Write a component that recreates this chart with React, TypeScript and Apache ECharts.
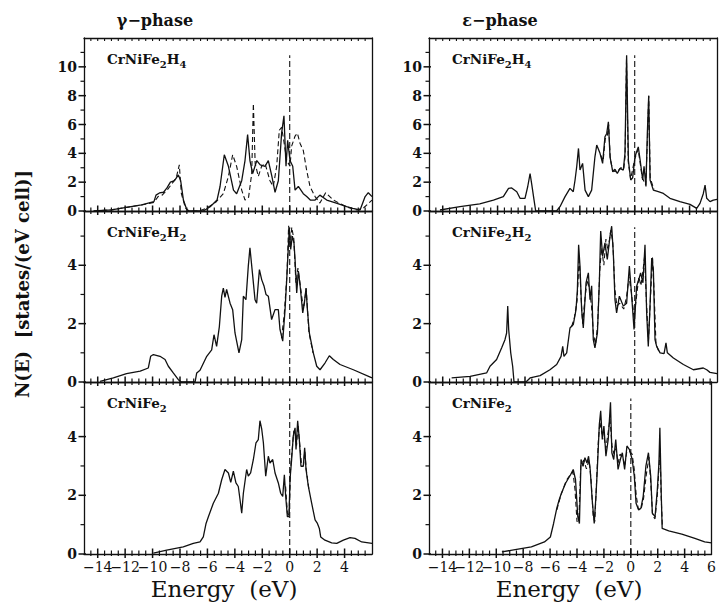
import React, { useEffect, useRef } from "react";
import * as echarts from "echarts";

// ---------- data (E in eV, N(E) in states/(eV cell)) ----------
const gammaH4Solid = [[-14.3,0],[-13,0.08],[-11.9,0.25],[-10.8,0.42],[-9.9,0.65],[-9.75,1.1],[-9.5,1.25],[-9.2,1.3],[-8.95,1.6],[-8.7,2.0],[-8.4,2.1],[-8.12,2.5],[-7.95,2.1],[-7.75,0.76],[-7.5,0.07],[-7.3,0],[-6.3,0],[-5.8,0.3],[-5.3,0.76],[-5.08,1.7],[-4.77,3.9],[-4.47,3.1],[-4.1,1.45],[-3.87,1.2],[-3.5,2.1],[-3.26,3.5],[-3.07,5.3],[-2.9,3.5],[-2.7,2.6],[-2.4,3.5],[-2.15,3.2],[-1.8,3.1],[-1.56,3.5],[-1.3,2.4],[-1.07,1.3],[-0.83,2.1],[-0.59,5.4],[-0.42,6.6],[-0.27,3.1],[-0.15,4.9],[0.02,3.5],[0.22,3.1],[0.39,1.45],[0.63,1.7],[0.99,1.2],[1.24,1.0],[1.5,0.76],[1.85,0.76],[2.2,1.1],[2.7,0.76],[3.4,0.55],[4.15,0.3],[4.6,0.18],[5.13,0.07],[5.5,1.0],[5.73,1.27],[6,1.0]];
const gammaH4Dashed = [[-14.3,0],[-13,0.08],[-11.9,0.25],[-10.8,0.42],[-9.9,0.6],[-9.6,1.0],[-9.3,1.1],[-8.9,1.5],[-8.5,2.0],[-8.25,2.4],[-8.05,3.2],[-7.9,1.2],[-7.6,0.2],[-7.35,0],[-6.6,0],[-6.05,0.2],[-5.4,0.6],[-4.84,1.2],[-4.47,2.4],[-4.16,3.9],[-3.87,3.1],[-3.5,1.45],[-3.26,0.76],[-3.0,0.95],[-2.77,2.6],[-2.65,7.45],[-2.52,3.3],[-2.29,2.4],[-2.05,3.1],[-1.8,3.3],[-1.44,2.1],[-1.2,1.7],[-0.95,3.1],[-0.76,5.6],[-0.59,5.8],[-0.42,4.8],[-0.22,3.5],[0.02,3.1],[0.14,4.5],[0.39,5.2],[0.56,5.4],[0.75,4.7],[0.99,4.2],[1.24,2.8],[1.48,1.7],[1.85,1.0],[2.2,0.55],[2.62,1.27],[3.18,0.76],[4.1,0.3],[4.88,0.07],[5.37,0.2],[6,0.76]];

const epsH4Solid = [[-14.2,0.07],[-12.74,0.3],[-11.3,0.5],[-10.3,0.76],[-9.58,1.0],[-9.2,1.57],[-8.97,1.6],[-8.6,1.34],[-8.36,0.88],[-8.0,0.88],[-7.8,1.7],[-7.63,2.6],[-7.5,1.8],[-7.34,0.76],[-7.22,0],[-5.7,0],[-5.45,0.3],[-5.08,1.0],[-4.72,1.57],[-4.48,1.34],[-4.35,2.15],[-4.23,3.07],[-4.1,4.34],[-3.99,2.84],[-3.8,3.3],[-3.62,1.45],[-3.38,1.0],[-3.14,1.45],[-2.9,3.76],[-2.77,4.57],[-2.53,4.0],[-2.34,3.3],[-2.17,5.15],[-2.04,5.38],[-1.92,6.19],[-1.8,3.76],[-1.6,2.72],[-1.44,2.9],[-1.27,2.6],[-1.07,2.96],[-0.83,2.84],[-0.71,4.0],[-0.59,10.8],[-0.46,3.5],[-0.29,2.15],[-0.15,2.3],[0.02,3.76],[0.26,4.45],[0.4,3.5],[0.58,2.15],[0.68,3.1],[0.82,1.7],[0.92,5.4],[1.02,8.0],[1.12,2.15],[1.36,1.45],[1.72,1.34],[2.09,1.22],[2.57,0.88],[3.3,0.65],[4.03,0.46],[4.52,0.18],[4.76,0.53],[5.0,1.2],[5.13,1.8],[5.25,0.88],[5.49,0.65],[5.73,0.76],[6.0,0.8]];
const epsH4Dashed = [[-2.5,3.9],[-2.3,3.5],[-2.15,5.0],[-2.0,5.2],[-1.9,6.0],[-1.78,3.6],[-1.6,2.8],[-1.3,2.7],[-1.0,3.0],[-0.8,2.9],[-0.7,3.8],[-0.6,10.5],[-0.47,3.4],[-0.3,2.2],[0.0,3.6],[0.25,4.3],[0.55,2.3],[0.8,1.8],[0.93,5.0],[1.02,8.0],[1.13,2.3],[1.4,1.5]];

const gammaH2Solid = [[-13.83,0.02],[-12.86,0.14],[-11.9,0.29],[-10.9,0.37],[-10.31,0.48],[-10.14,0.88],[-9.94,0.94],[-9.46,0.88],[-9.09,0.77],[-8.85,0.54],[-8.49,0.31],[-8.12,0.08],[-7.9,0],[-6.9,0],[-6.78,0.31],[-6.54,0.4],[-6.05,0.88],[-5.69,1.1],[-5.52,1.62],[-5.33,1.22],[-5.13,1.9],[-4.96,2.94],[-4.84,3.22],[-4.72,2.9],[-4.6,3.17],[-4.35,2.7],[-4.16,2.48],[-3.99,1.68],[-3.7,1.0],[-3.5,1.45],[-3.38,2.94],[-3.19,2.82],[-3.02,3.97],[-2.9,4.6],[-2.72,3.74],[-2.53,2.82],[-2.41,2.7],[-2.21,3.85],[-2.04,3.5],[-1.88,3.3],[-1.73,3.0],[-1.56,2.94],[-1.32,2.14],[-1.07,2.48],[-0.83,2.48],[-0.71,1.8],[-0.51,1.4],[-0.34,2.48],[-0.22,3.5],[-0.03,5.28],[0.07,4.54],[0.19,5.0],[0.31,4.77],[0.39,4.2],[0.51,3.05],[0.63,3.8],[0.75,3.34],[0.95,2.37],[1.07,2.7],[1.19,3.22],[1.29,2.48],[1.43,1.68],[1.72,1.0],[1.97,0.54],[2.21,0.42],[2.57,0.65],[2.89,0.9],[3.18,0.77],[3.67,0.6],[4.64,0.42],[6.0,0.14]];
const gammaH2Dashed = [[-0.6,1.5],[-0.4,2.3],[-0.2,3.7],[-0.08,5.35],[0.05,4.7],[0.15,5.3],[0.3,4.9],[0.45,3.4],[0.6,3.9],[0.8,3.2],[1.0,2.5],[1.2,3.2],[1.4,1.7],[1.7,1.0]];

const epsH2Solid = [[-13.35,0.14],[-12.0,0.19],[-10.8,0.31],[-10.55,0.54],[-10.07,0.77],[-9.7,1.17],[-9.46,1.45],[-9.34,1.68],[-9.26,2.6],[-9.19,1.8],[-9.04,1.0],[-8.9,0.54],[-8.8,0],[-7.93,0],[-7.63,0.14],[-6.9,0.22],[-6.18,0.42],[-5.69,0.6],[-5.37,0.88],[-5.25,1.22],[-5.16,0.88],[-4.96,1.0],[-4.72,1.85],[-4.48,1.97],[-4.28,2.48],[-4.18,3.17],[-4.09,4.7],[-3.99,3.97],[-3.87,2.48],[-3.75,1.85],[-3.55,3.4],[-3.38,3.74],[-3.26,2.82],[-3.14,3.3],[-3.02,1.45],[-2.9,1.17],[-2.72,1.68],[-2.58,3.4],[-2.48,5.17],[-2.34,4.31],[-2.17,4.77],[-2.0,4.2],[-1.8,5.0],[-1.68,5.34],[-1.56,4.42],[-1.44,2.82],[-1.32,2.37],[-1.12,2.94],[-0.83,2.6],[-0.59,2.7],[-0.39,3.97],[-0.22,2.94],[-0.05,1.8],[0.14,3.28],[0.26,3.45],[0.43,3.74],[0.6,3.4],[0.75,4.7],[0.87,2.37],[0.99,1.22],[1.1,2.4],[1.24,4.25],[1.36,3.85],[1.48,1.45],[1.6,1.22],[1.85,1.0],[2.14,0.97],[2.28,1.34],[2.38,1.0],[2.82,0.82],[3.55,0.6],[4.28,0.42],[5.0,0.48],[5.25,0.42],[5.49,0.33],[6.0,0.29]];
const epsH2Dashed = [[-4.6,1.9],[-4.4,2.2],[-4.2,2.8],[-4.05,4.3],[-3.92,3.0],[-3.8,2.0],[-3.6,3.0],[-3.45,3.5],[-3.3,3.2],[-3.15,2.6],[-3.0,1.6],[-2.85,1.3],[-2.7,2.0],[-2.55,3.8],[-2.42,4.6],[-2.25,4.0],[-2.1,4.9],[-1.95,4.5],[-1.75,5.2],[-1.6,4.8],[-1.45,3.2],[-1.3,2.6],[-1.1,2.7],[-0.8,2.5],[-0.6,2.9],[-0.42,3.6],[-0.25,3.1],[-0.05,2.2],[0.15,3.0],[0.3,3.6],[0.45,3.3],[0.6,3.8],[0.72,4.3],[0.85,2.8],[1.0,1.4],[1.15,2.9],[1.3,4.3],[1.42,3.0],[1.55,1.3],[1.8,1.0]];

const gammaSolid = [[-9.94,0.03],[-8.97,0.13],[-7.76,0.24],[-7.03,0.36],[-6.54,0.41],[-6.3,0.58],[-6.1,1.04],[-5.93,1.27],[-5.57,1.73],[-5.2,2.07],[-4.96,2.53],[-4.72,2.88],[-4.47,2.76],[-4.3,2.44],[-4.11,2.82],[-3.92,2.42],[-3.75,2.3],[-3.62,1.84],[-3.5,1.39],[-3.38,2.07],[-3.14,2.88],[-3.02,2.65],[-2.85,2.76],[-2.65,3.22],[-2.46,3.79],[-2.29,3.9],[-2.17,4.54],[-2.04,4.25],[-1.92,3.79],[-1.75,2.65],[-1.56,3.33],[-1.44,3.1],[-1.24,3.22],[-1.07,2.76],[-0.83,2.42],[-0.66,2.07],[-0.51,1.96],[-0.39,2.7],[-0.3,2.0],[-0.17,1.27],[-0.05,1.27],[0.02,2.53],[0.14,3.22],[0.26,4.02],[0.39,4.3],[0.46,3.56],[0.58,4.54],[0.7,3.9],[0.82,2.99],[0.99,2.99],[1.09,3.62],[1.19,2.88],[1.36,2.3],[1.6,1.73],[1.85,1.16],[2.02,1.04],[2.16,0.87],[2.26,0.58],[2.57,0.47],[3.06,0.38],[3.43,0.36],[3.91,0.47],[4.4,0.56],[4.76,0.53],[5.25,0.41],[6.0,0.36]];
const gammaDashed = [[-0.3,2.3],[-0.17,1.4],[-0.05,1.3],[0.05,2.8],[0.15,3.4],[0.3,4.2],[0.4,4.1],[0.5,3.7],[0.6,4.4],[0.72,3.8],[0.85,3.1],[1.0,3.0],[1.1,3.5],[1.2,2.9],[1.4,2.2]];

const epsSolid = [[-9.58,0.07],[-8.6,0.15],[-7.39,0.24],[-6.42,0.41],[-5.98,0.58],[-5.74,1.04],[-5.5,1.56],[-5.33,1.84],[-5.16,2.07],[-4.84,2.42],[-4.48,2.7],[-4.28,2.88],[-4.11,2.53],[-3.94,1.27],[-3.82,1.04],[-3.7,3.22],[-3.55,2.99],[-3.41,3.28],[-3.26,3.1],[-3.14,3.33],[-3.02,2.88],[-2.87,1.84],[-2.72,1.04],[-2.58,2.07],[-2.48,2.99],[-2.34,4.42],[-2.24,4.88],[-2.12,3.9],[-2.0,4.36],[-1.85,3.33],[-1.68,3.9],[-1.51,5.17],[-1.41,3.45],[-1.27,3.22],[-1.12,3.9],[-0.95,2.88],[-0.78,3.22],[-0.63,3.45],[-0.46,2.88],[-0.29,3.68],[-0.1,3.56],[0.1,3.22],[0.26,2.65],[0.39,1.73],[0.58,1.5],[0.75,1.56],[0.92,1.96],[1.12,2.99],[1.31,3.45],[1.48,2.65],[1.6,1.39],[1.8,1.27],[1.97,2.19],[2.09,3.1],[2.16,4.3],[2.26,2.07],[2.33,0.87],[2.82,0.79],[3.79,0.68],[4.76,0.53],[5.49,0.41],[6.0,0.38]];
const epsDashed = [[-5.5,1.5],[-5.2,2.0],[-4.8,2.5],[-4.5,2.7],[-4.3,2.8],[-4.15,2.2],[-4.0,1.1],[-3.85,1.3],[-3.72,3.0],[-3.5,3.2],[-3.3,2.9],[-3.1,3.2],[-2.95,2.5],[-2.8,1.3],[-2.68,1.1],[-2.55,2.4],[-2.42,3.8],[-2.3,4.5],[-2.15,4.1],[-2.0,4.0],[-1.85,3.6],[-1.7,4.1],[-1.55,4.6],[-1.4,3.7],[-1.25,3.4],[-1.1,3.6],[-0.95,3.1],[-0.8,3.4],[-0.6,3.3],[-0.45,3.0],[-0.3,3.5],[-0.1,3.5],[0.1,3.4],[0.25,2.9],[0.4,2.0],[0.55,1.55],[0.75,1.5],[0.95,1.9],[1.15,2.7],[1.35,3.3],[1.5,2.3],[1.62,1.3],[1.8,1.2],[1.97,2.0],[2.1,3.0],[2.17,3.6],[2.26,1.9],[2.35,0.9]];

const fermiTop = [[0, 0], [0, 10.8]];
const fermiLow = [[0, 0], [0, 5.3]];

// tick positions / labels
const xMajorTicks = [-14, -12, -10, -8, -6, -4, -2, 0, 2, 4];
const xMinorTicks = [-14.5, -13.5, -13, -12.5, -11.5, -11, -10.5, -9.5, -9, -8.5, -7.5, -7, -6.5, -5.5, -5, -4.5, -3.5, -3, -2.5, -1.5, -1, -0.5, 0.5, 1, 1.5, 2.5, 3, 3.5, 4.5, 5, 5.5];
const yMajorTop = [0, 2, 4, 6, 8, 10];
const yMinorTop = [1, 3, 5, 7, 9, 11];
const yMajorLow = [0, 2, 4];
const yMinorLow = [1, 3, 5];
const xLabelMaxLeft = 4;
const xLabelMaxRight = 6;
const yLabelMaxTop = 10;

const phaseTitles = ["γ−phase", "ε−phase"];
const compounds = [
  ["CrNiFe", "2", "H", "4"],
  ["CrNiFe", "2", "H", "2"],
  ["CrNiFe", "2", "", ""],
];

const panels = [
  { solid: gammaH4Solid, dashed: gammaH4Dashed, fermi: fermiTop },
  { solid: epsH4Solid, dashed: epsH4Dashed, fermi: fermiTop },
  { solid: gammaH2Solid, dashed: gammaH2Dashed, fermi: fermiLow },
  { solid: epsH2Solid, dashed: epsH2Dashed, fermi: fermiLow },
  { solid: gammaSolid, dashed: gammaDashed, fermi: fermiLow },
  { solid: epsSolid, dashed: epsDashed, fermi: fermiLow },
];

const FONT = "DejaVu Serif";
const INK = "#111";

export default function App() {
  const ref = useRef<HTMLDivElement>(null);
  useEffect(() => {
    if (!ref.current) return;
    const chart = echarts.init(ref.current, undefined, { renderer: "svg" });
    const lefts = [84, 429];
    const tops = [38, 211, 382];
    const heights = [173, 171, 172];
    const grid: any[] = [];
    const xAxis: any[] = [];
    const yAxis: any[] = [];
    const series: any[] = [];
    const graphic: any[] = [];
    panels.forEach((p, i) => {
      const col = i % 2;
      const row = Math.floor(i / 2);
      const ymax = row === 0 ? 12 : 5.86;
      const xLabMax = col === 0 ? xLabelMaxLeft : xLabelMaxRight;
      grid.push({ left: lefts[col], top: tops[row], width: 288, height: heights[row] });
      const baseX = {
        gridIndex: i, type: "value", min: -15, max: 6, interval: 0.5,
        splitLine: { show: false },
      };
      xAxis.push({
        ...baseX, position: "bottom",
        axisLine: { show: true, onZero: false, lineStyle: { color: INK, width: 1.3 } },
        axisTick: { show: false },
        axisLabel: {
          show: row === 2, hideOverlap: false, showMinLabel: true, showMaxLabel: true,
          formatter: (v: number) => (Math.abs(v % 2) < 1e-9 && v >= -14 && v <= xLabMax ? String(v).replace("-", "−") : ""),
          fontFamily: FONT, fontSize: 14, color: INK, margin: 6,
        },
      });
      xAxis.push({
        ...baseX, position: "top",
        axisLine: { show: true, onZero: false, lineStyle: { color: INK, width: 1.3 } },
        axisTick: { show: false },
        axisLabel: { show: false },
      });
      const baseY = { gridIndex: i, type: "value", min: 0, max: ymax, interval: 1, splitLine: { show: false } };
      yAxis.push({
        ...baseY, position: "left",
        axisLine: { show: true, onZero: false, lineStyle: { color: INK, width: 1.3 } },
        axisTick: { show: false },
        axisLabel: {
          show: true, hideOverlap: false,
          formatter: (v: number) => (Math.abs(v % 2) < 1e-9 && v <= yLabelMaxTop ? String(v) : ""),
          fontFamily: FONT, fontWeight: "bold", fontSize: 14, color: INK, margin: 7,
        },
      });
      yAxis.push({
        ...baseY, position: "right",
        axisLine: { show: true, onZero: false, lineStyle: { color: INK, width: 1.3 } },
        axisTick: { show: false },
        axisLabel: { show: false },
      });
      const ax = { xAxisIndex: i * 2, yAxisIndex: i * 2 };
      const common = { ...ax, type: "line", symbol: "none", silent: true };
      series.push({ ...common, data: p.dashed, lineStyle: { color: INK, width: 1.1, type: [5, 3] }, z: 3 });
      series.push({ ...common, data: p.solid, lineStyle: { color: INK, width: 1.3 }, z: 4 });
      series.push({ ...common, data: p.fermi, lineStyle: { color: INK, width: 1.1, type: [6, 3] }, z: 2 });

      const c = compounds[row];
      graphic.push({
        type: "text", left: lefts[col] + 23, top: tops[row] + 14,
        style: {
          text: `{a|${c[0]}}{s|${c[1]}}` + (c[2] ? `{a|${c[2]}}{s|${c[3]}}` : ""),
          rich: {
            a: { fontFamily: FONT, fontWeight: "bold", fontSize: 13.5, fill: INK, verticalAlign: "top", lineHeight: 15 },
            s: { fontFamily: FONT, fontWeight: "bold", fontSize: 10, fill: INK, verticalAlign: "top", lineHeight: 11, padding: [7, 0, 0, 0] },
          },
        },
      });
    });
    graphic.push({
      type: "text", x: 155, y: 20,
      style: { text: phaseTitles[0], fontFamily: FONT, fontWeight: "bold", fontSize: 16, fill: INK, align: "center", verticalAlign: "middle" },
    });
    graphic.push({
      type: "text", x: 500, y: 20,
      style: { text: phaseTitles[1], fontFamily: FONT, fontWeight: "bold", fontSize: 16, fill: INK, align: "center", verticalAlign: "middle" },
    });
    graphic.push({
      type: "text", x: 22, y: 284, rotation: Math.PI / 2,
      style: { text: "N(E)  [states/(eV cell)]", fontFamily: FONT, fontWeight: "bold", fontSize: 18, fill: INK, align: "center", verticalAlign: "middle" },
    });
    graphic.push({
      type: "text", x: 224, y: 589,
      style: { text: "Energy  (eV)", fontFamily: FONT, fontSize: 23, fill: INK, align: "center", verticalAlign: "middle" },
    });
    graphic.push({
      type: "text", x: 569, y: 589,
      style: { text: "Energy  (eV)", fontFamily: FONT, fontSize: 23, fill: INK, align: "center", verticalAlign: "middle" },
    });

    chart.setOption({
      animation: false,
      backgroundColor: "#fff",
      grid, xAxis, yAxis, series, graphic,
    });

    // tick marks: pixel positions obtained from each panel's own axes
    const ticks: any[] = [];
    const seg = (x1: number, y1: number, x2: number, y2: number, w: number) =>
      ticks.push({ type: "line", silent: true, z: 100, shape: { x1, y1, x2, y2 }, style: { stroke: INK, lineWidth: w } });
    panels.forEach((_p, i) => {
      const row = Math.floor(i / 2);
      const ymax = row === 0 ? 12 : 5.86;
      const finder = { xAxisIndex: i * 2, yAxisIndex: i * 2 };
      const px = (v: number[]) => chart.convertToPixel(finder as any, v) as number[];
      xMajorTicks.forEach((v) => {
        const q = px([v, 0]);
        seg(q[0], q[1] - 5.5, q[0], q[1] + 4, 1.5);
      });
      xMinorTicks.forEach((v) => {
        const q = px([v, 0]);
        seg(q[0], q[1] - 3.5, q[0], q[1] + (row === 2 ? 2 : 3), 1.2);
      });
      if (row === 0) {
        xMinorTicks.concat(xMajorTicks).forEach((v) => {
          const q = px([v, ymax]);
          seg(q[0], q[1], q[0], q[1] + 3, 1.1);
        });
      }
      (row === 0 ? yMajorTop : yMajorLow).forEach((v) => {
        const q = px([-15, v]);
        seg(q[0] - 5.5, q[1], q[0] + 2, q[1], 1.5);
      });
      (row === 0 ? yMinorTop : yMinorLow).forEach((v) => {
        const q = px([-15, v]);
        seg(q[0] - 3.5, q[1], q[0] + 1, q[1], 1.2);
      });
    });
    chart.setOption({ graphic: graphic.concat(ticks) });

    return () => chart.dispose();
  }, []);
  return <div ref={ref} style={{ position: "fixed", left: 0, top: 0, width: 719, height: 603 }} />;
}
